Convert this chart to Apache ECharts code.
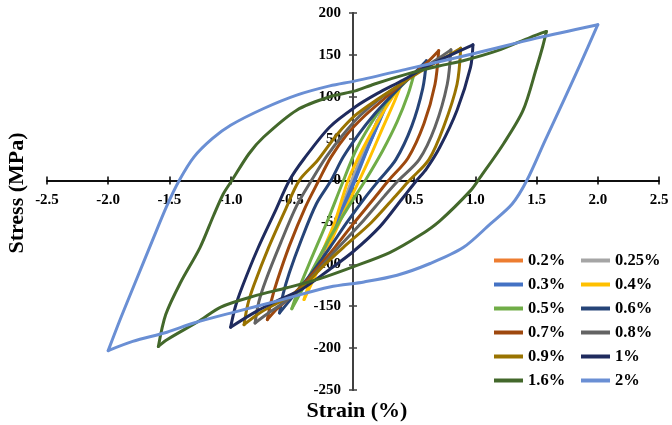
<!DOCTYPE html>
<html>
<head>
<meta charset="utf-8">
<script src="https://cdn.jsdelivr.net/npm/echarts@6/dist/echarts.min.js"></script>
<style>html,body{margin:0;padding:0;background:#fff}#c{width:672px;height:425px}</style>
</head>
<body>
<div id="c"></div>
<script>
// Legend names (strain amplitudes) and colours
const names = ['0.2%','0.25%','0.3%','0.4%','0.5%','0.6%','0.7%','0.8%','0.9%','1%','1.6%','2%'];
const colors = ['#ED7D31','#A5A5A5','#4472C4','#FFC000','#70AD47','#264478','#9E480E','#636363','#997300','#1F2B5E','#43682B','#6A8FD4'];
const xTicks = {min:-2.5, max:2.5, step:0.5};
const yTicks = {min:-250, max:200, step:50};

// [strain %, stress MPa] — loading branch (from compressive tip) and unloading branch (from tensile tip)
const load_02 = [[-0.2,-78],[-0.1,-42],[0.0,-5],[0.1,35],[0.2,72]];
const unload_02 = [[0.2,72],[0.1,38],[0.0,2],[-0.1,-38],[-0.2,-78]];
const load_025 = [[-0.25,-95],[-0.15,-58],[-0.05,-20],[0.05,18],[0.15,53],[0.25,88]];
const unload_025 = [[0.25,88],[0.15,55],[0.05,22],[-0.05,-15],[-0.15,-55],[-0.25,-95]];
const load_03 = [[-0.30,-110],[-0.22,-80],[-0.1,-38],[0.0,-3],[0.1,32],[0.2,66],[0.30,100]];
const unload_03 = [[0.30,100],[0.22,72],[0.12,38],[0.03,5],[-0.08,-35],[-0.2,-75],[-0.30,-110]];
const load_04 = [[-0.40,-142],[-0.35,-120],[-0.26,-88],[-0.15,-50],[-0.04,0],[0.08,38],[0.24,80],[0.40,117]];
const unload_04 = [[0.40,117],[0.34,95],[0.24,62],[0.13,25],[0.05,0],[-0.08,-40],[-0.24,-92],[-0.40,-142]];
const load_05 = [[-0.50,-153],[-0.45,-132],[-0.36,-100],[-0.2,-45],[-0.1,-8],[0.03,38],[0.2,80],[0.3,98],[0.41,115],[0.50,128]];
const unload_05 = [[0.50,128],[0.45,103],[0.36,70],[0.24,35],[0.1,0],[-0.04,-32],[-0.18,-66],[-0.3,-98],[-0.4,-126],[-0.50,-153]];
const load_06 = [[-0.60,-158],[-0.57,-135],[-0.52,-110],[-0.42,-70],[-0.30,-28],[-0.18,0],[-0.08,28],[0.05,56],[0.18,80],[0.3,99],[0.42,117],[0.52,131],[0.60,143]];
const unload_06 = [[0.60,143],[0.57,110],[0.48,65],[0.35,25],[0.21,0],[0.1,-20],[-0.05,-50],[-0.18,-78],[-0.3,-103],[-0.4,-122],[-0.5,-140],[-0.60,-158]];
const load_07 = [[-0.70,-166],[-0.67,-145],[-0.62,-120],[-0.52,-78],[-0.39,-32],[-0.28,0],[-0.18,28],[-0.05,55],[0.1,78],[0.25,97],[0.41,117],[0.52,130],[0.62,143],[0.70,155]];
const unload_07 = [[0.70,155],[0.67,115],[0.58,68],[0.45,27],[0.29,0],[0.18,-20],[0.0,-52],[-0.15,-80],[-0.3,-106],[-0.42,-126],[-0.52,-140],[-0.62,-153],[-0.70,-166]];
const load_08 = [[-0.80,-170],[-0.77,-145],[-0.71,-118],[-0.59,-74],[-0.46,-30],[-0.34,0],[-0.22,28],[-0.08,55],[0.06,78],[0.22,98],[0.41,117],[0.56,133],[0.69,145],[0.80,156]];
const unload_08 = [[0.80,156],[0.77,115],[0.67,64],[0.54,25],[0.37,0],[0.26,-18],[0.06,-52],[-0.12,-80],[-0.28,-106],[-0.42,-128],[-0.56,-145],[-0.68,-157],[-0.80,-170]];
const load_09 = [[-0.89,-172],[-0.86,-148],[-0.81,-125],[-0.69,-80],[-0.55,-34],[-0.44,0],[-0.29,24],[-0.13,55],[0.02,78],[0.2,97],[0.41,117],[0.58,133],[0.74,146],[0.88,158]];
const unload_09 = [[0.88,158],[0.85,115],[0.74,64],[0.62,25],[0.46,0],[0.35,-18],[0.15,-50],[-0.08,-80],[-0.25,-103],[-0.42,-128],[-0.58,-143],[-0.75,-157],[-0.89,-172]];
const load_1 = [[-1.0,-175],[-0.96,-150],[-0.9,-125],[-0.78,-82],[-0.64,-38],[-0.52,0],[-0.40,26],[-0.19,64],[0.02,88],[0.2,104],[0.41,120],[0.6,136],[0.8,150],[0.98,162]];
const unload_1 = [[0.98,162],[0.96,135],[0.85,84],[0.71,40],[0.6,14],[0.52,0],[0.4,-22],[0.22,-55],[0.0,-85],[-0.2,-107],[-0.42,-130],[-0.6,-142],[-0.8,-157],[-1.0,-175]];
const load_16 = [[-1.59,-198],[-1.53,-160],[-1.41,-122],[-1.25,-80],[-1.14,-42],[-1.06,-16],[-0.99,0],[-0.85,32],[-0.73,52],[-0.46,84],[-0.19,100],[0.02,107],[0.17,115],[0.44,127],[0.71,137],[0.9,143],[1.18,155],[1.45,171],[1.58,178]];
const unload_16 = [[1.58,178],[1.55,160],[1.5,135],[1.39,84],[1.23,44],[1.04,4],[0.96,-12],[0.71,-48],[0.54,-66],[0.3,-86],[0.0,-103],[-0.27,-117],[-0.54,-128],[-0.81,-138],[-1.08,-151],[-1.25,-167],[-1.52,-190],[-1.59,-198]];
const load_2 = [[-2.0,-203],[-1.9,-165],[-1.78,-122],[-1.64,-72],[-1.52,-30],[-1.42,0],[-1.3,28],[-1.15,50],[-1.0,66],[-0.73,86],[-0.46,102],[-0.19,113],[0.02,119],[0.44,133],[1.0,152],[1.5,170],[2.0,186]];
const unload_2 = [[2.0,186],[1.86,140],[1.72,95],[1.57,48],[1.42,0],[1.3,-28],[1.12,-52],[0.9,-80],[0.63,-99],[0.36,-113],[0.09,-121],[-0.19,-127],[-0.6,-143],[-0.97,-157],[-1.3,-170],[-1.52,-181],[-1.8,-192],[-2.0,-203]];

const loops = [
  [load_02, unload_02],[load_025, unload_025],[load_03, unload_03],[load_04, unload_04],
  [load_05, unload_05],[load_06, unload_06],[load_07, unload_07],[load_08, unload_08],
  [load_09, unload_09],[load_1, unload_1],[load_16, unload_16],[load_2, unload_2]
];

const FONT = '"Liberation Serif","Times New Roman",serif';
const W = 672, H = 425;
const G = {left: 47, right: 13, top: 13, bottom: 35};
const gw = W - G.left - G.right, gh = H - G.top - G.bottom;
const fy = (yTicks.max - 0) / (yTicks.max - yTicks.min);  // fraction from top to zero line
const fx = (0 - xTicks.min) / (xTicks.max - xTicks.min);  // fraction from left to zero line

const series = [];
loops.forEach((lp, i) => {
  lp.forEach(branch => {
    series.push({
      type: 'line', name: names[i], data: branch, smooth: 0.3,
      xAxisIndex: 0, yAxisIndex: 0,
      symbol: 'none', color: colors[i],
      lineStyle: {width: 3, color: colors[i], cap: 'round', join: 'round'},
      emphasis: {disabled: true}, animation: false, z: 2
    });
  });
});

const axisText = {color: '#000', fontFamily: FONT, fontWeight: 'bold', fontSize: 15};
function xAx(pos, offset, showLabel) {
  return {
    type: 'value', position: pos, offset: offset, min: xTicks.min, max: xTicks.max, interval: xTicks.step,
    axisLine: {show: true, onZero: false, lineStyle: {color: '#000', width: 1.5}},
    axisTick: {show: true, length: 4, lineStyle: {color: '#000', width: 1.5}},
    axisLabel: Object.assign({show: showLabel, margin: 12, formatter: v => v.toFixed(1)}, axisText),
    splitLine: {show: false}
  };
}
function yAx(pos, offset, showLabel) {
  return {
    type: 'value', position: pos, offset: offset, min: yTicks.min, max: yTicks.max, interval: yTicks.step,
    axisLine: {show: true, onZero: false, lineStyle: {color: '#404040', width: 2}},
    axisTick: {show: true, length: 4, lineStyle: {color: '#404040', width: 1.5}},
    axisLabel: Object.assign({show: showLabel, margin: 12}, axisText),
    splitLine: {show: false}
  };
}

const legendBase = {
  orient: 'vertical', top: 247, icon: 'rect', itemWidth: 29, itemHeight: 4, itemGap: 7,
  textStyle: {color: '#000', fontFamily: FONT, fontWeight: 'bold', fontSize: 16.5, lineHeight: 16},
  selectedMode: false
};

const chart = echarts.init(document.getElementById('c'), null, {renderer: 'canvas'});
chart.setOption({
  backgroundColor: '#fff',
  animation: false,
  grid: {left: G.left, right: G.right, top: G.top, bottom: G.bottom, containLabel: false},
  xAxis: [xAx('bottom', -gh * (1 - fy), true), xAx('top', -gh * fy, false)],
  yAxis: [yAx('left', -gw * fx, true), yAx('right', -gw * (1 - fx), false)],
  legend: [
    Object.assign({left: 489, data: ['0.2%','0.3%','0.5%','0.7%','0.9%','1.6%']}, legendBase),
    Object.assign({left: 576, data: ['0.25%','0.4%','0.6%','0.8%','1%','2%']}, legendBase)
  ],
  graphic: [
    {type: 'text', x: 357, y: 411, style: {text: 'Strain (%)', font: 'bold 22px ' + FONT, fill: '#000', align: 'center', verticalAlign: 'middle'}},
    {type: 'text', x: 17, y: 193, rotation: Math.PI / 2, style: {text: 'Stress (MPa)', font: 'bold 22px ' + FONT, fill: '#000', align: 'center', verticalAlign: 'middle'}}
  ],
  series: series
});
</script>
</body>
</html>
